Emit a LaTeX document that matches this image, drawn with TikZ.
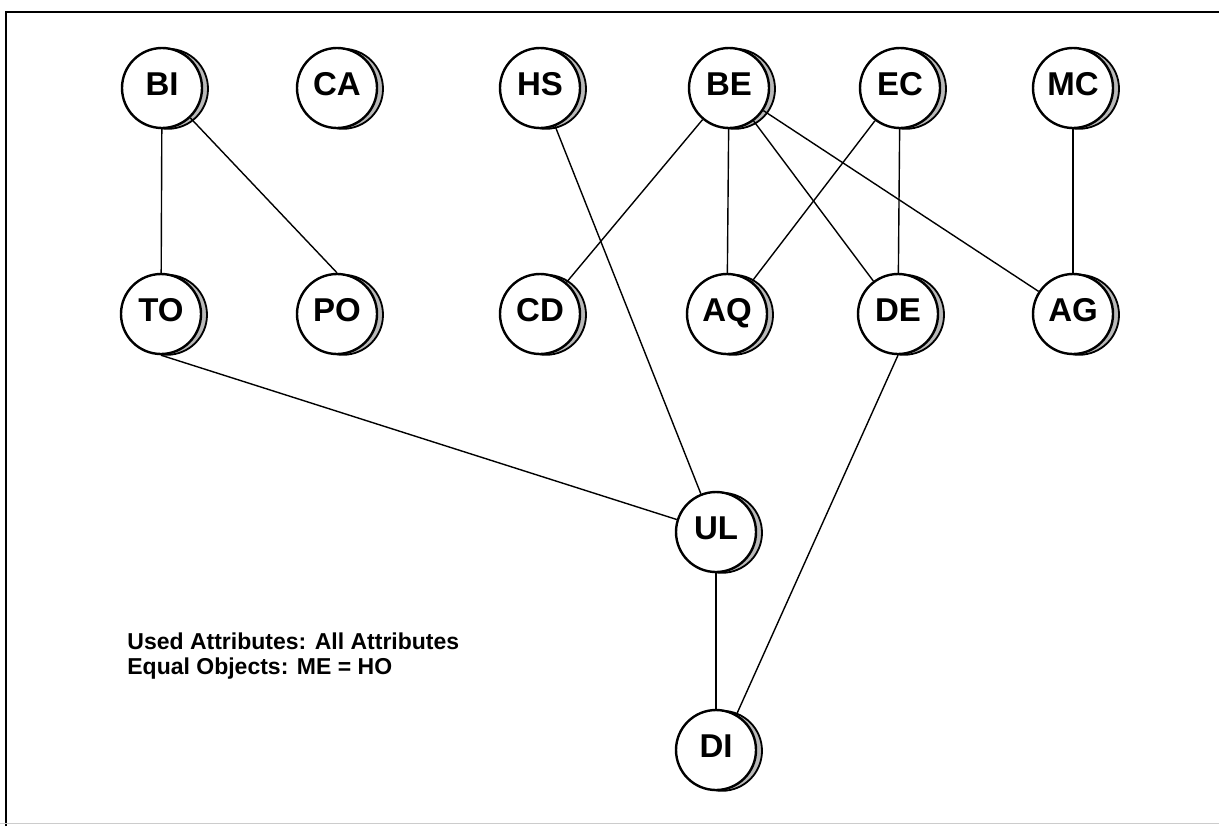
\documentclass[tikz,border=0pt]{standalone}
\usepackage{fontspec}
\setmainfont{Liberation Sans}
\usetikzlibrary{shadows}
\begin{document}
\begin{tikzpicture}[x=0.5pt,y=-0.5pt,
  obj/.style={circle, draw=black, line width=1.2pt, fill=white,
    minimum size=40pt, inner sep=0pt,
    font=\fontsize{16.5}{16.5}\selectfont\bfseries,
    text height=0.72em, text depth=0pt,
    general shadow={shadow xshift=3pt, shadow yshift=-0.4pt,
      fill=gray!55, draw=black, line width=0.9pt}},
  link/.style={draw=black, line width=0.7pt},
  frameline/.style={draw=black, line width=1pt},
  note/.style={anchor=west, align=left, inner sep=0pt,
    font=\fontsize{11.5}{12.5}\selectfont\bfseries}]
\useasboundingbox (0,0) rectangle (1219,826);

% page frame
\coordinate (f1) at (6,826);
\coordinate (f2) at (6,12);
\coordinate (f3) at (1219,12);
\coordinate (f4) at (0,823);
\coordinate (f5) at (1219,823);
\draw[frameline] (f1) -- (f2) -- (f3);
\draw[draw=gray!40, line width=0.5pt] (f4) -- (f5);

% objects, top row
\node[obj] (BI) at (162,88) {BI};
\node[obj] (CA) at (337,88) {CA};
\node[obj] (HS) at (540,88) {HS};
\node[obj] (BE) at (729,88) {BE};
\node[obj] (EC) at (900,88) {EC};
\node[obj] (MC) at (1073,88) {MC};
% middle row
\node[obj] (TO) at (161,314) {TO};
\node[obj] (PO) at (337,314) {PO};
\node[obj] (CD) at (540,314) {CD};
\node[obj] (AQ) at (727,314) {AQ};
\node[obj] (DE) at (898,314) {DE};
\node[obj] (AG) at (1073,314) {AG};
% lower objects
\node[obj] (UL) at (716,532) {UL};
\node[obj] (DI) at (716,750) {DI};

% connections
\draw[link] (BI) -- (TO);
\draw[link] (BI) -- (PO.north);
\draw[link] (HS) -- (UL);
\draw[link] (BE) -- (CD);
\draw[link] (BE) -- (AQ);
\draw[link] (BE) -- (DE);
\draw[link] (BE) -- (AG);
\draw[link] (EC) -- (AQ);
\draw[link] (EC) -- (DE);
\draw[link] (MC) -- (AG);
\draw[link] (TO.south) -- (UL);
\draw[link] (UL) -- (DI);
\draw[link] (DE.south) -- (DI.60);

% legend
\node[note] (legend) at (127,656) {Used Attributes: All Attributes\\Equal Objects: ME = HO};
\end{tikzpicture}
\end{document}
